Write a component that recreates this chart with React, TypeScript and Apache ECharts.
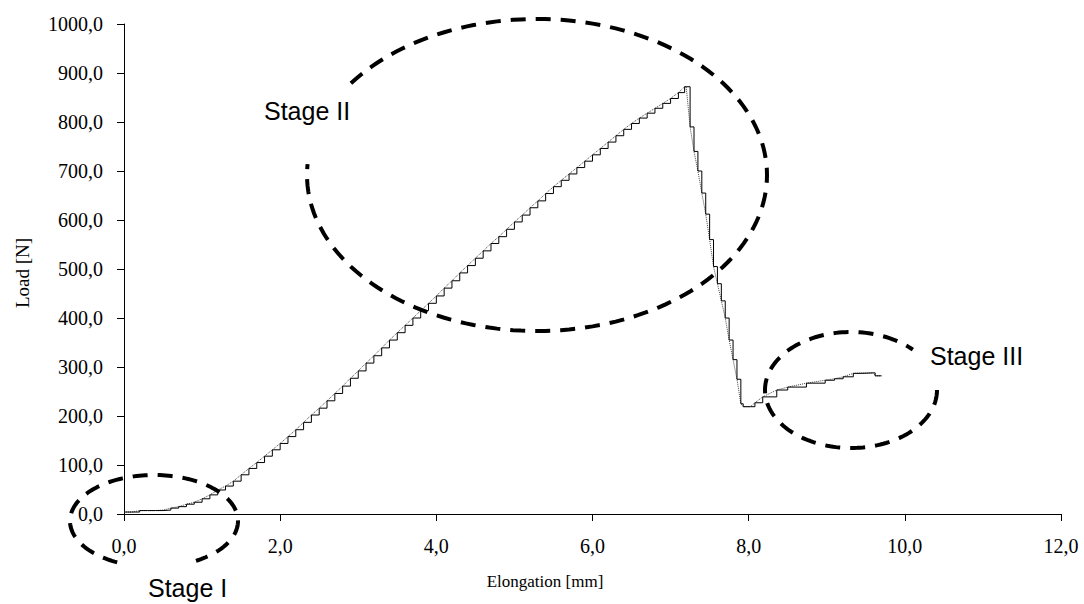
import React, { useEffect, useRef } from "react";
import * as echarts from "echarts";

// Elongation [mm]
const elongation = [
  0.0, 0.1, 0.2, 0.3, 0.4, 0.5, 0.6, 0.7, 0.8, 0.9,
  1.0, 1.1, 1.2, 1.3, 1.4, 1.5, 1.6, 1.7, 1.8, 1.9,
  2.0, 2.1, 2.2, 2.3, 2.4, 2.5, 2.6, 2.7, 2.8, 2.9,
  3.0, 3.1, 3.2, 3.3, 3.4, 3.5, 3.6, 3.7, 3.8, 3.9,
  4.0, 4.1, 4.2, 4.3, 4.4, 4.5, 4.6, 4.7, 4.8, 4.9,
  5.0, 5.1, 5.2, 5.3, 5.4, 5.5, 5.6, 5.7, 5.8, 5.9,
  6.0, 6.1, 6.2, 6.3, 6.4, 6.5, 6.6, 6.7, 6.8, 6.9,
  7.0, 7.1, 7.18, 7.2, 7.25, 7.3, 7.35, 7.4, 7.45, 7.5,
  7.55, 7.6, 7.65, 7.7, 7.75, 7.8, 7.85, 7.9, 7.93, 8.02,
  8.08, 8.18, 8.36, 8.5, 8.74, 8.98, 9.1, 9.21, 9.34, 9.45,
  9.6, 9.62, 9.7,
];

// Load [N]
const load = [
  4, 4, 7, 7, 7, 8, 12, 15, 20, 24,
  31, 39, 49, 57, 67, 80, 93, 105, 118, 131,
  144, 158, 172, 187, 202, 216, 231, 246, 261, 277,
  292, 308, 323, 339, 355, 370, 385, 400, 415, 430,
  445, 461, 476, 492, 507, 522, 537, 552, 566, 581,
  596, 610, 625, 639, 654, 668, 681, 694, 707, 720,
  733, 746, 759, 772, 785, 797, 808, 818, 828, 838,
  848, 860, 872, 872, 790, 740, 700, 655, 612, 560,
  505, 470, 435, 400, 355, 315, 275, 225, 219, 219,
  227, 239, 253, 259, 267, 273, 276, 280, 287, 288,
  288, 282, 282,
];

const xTicks = [0, 2, 4, 6, 8, 10, 12];
const yTicks = [0, 100, 200, 300, 400, 500, 600, 700, 800, 900, 1000];

const stageLabels = ["Stage I", "Stage II", "Stage III"];

function fmt(v: number) {
  return v.toFixed(1).replace(".", ",");
}

function arcPoints(cx: number, cy: number, rx: number, ry: number, a0: number, a1: number) {
  const pts: number[][] = [];
  for (let a = a0; a <= a1; a += 2) {
    const r = (a * Math.PI) / 180;
    pts.push([cx + rx * Math.cos(r), cy + ry * Math.sin(r)]);
  }
  return pts;
}

export default function App() {
  const ref = useRef<HTMLDivElement>(null);
  useEffect(() => {
    if (!ref.current) return;
    const chart = echarts.init(ref.current, undefined, { renderer: "svg" });
    const data = elongation.map((x, i) => [x, load[i]]);
    const serif = "'Liberation Serif', 'Times New Roman', serif";
    const sans = "'Liberation Sans', Arial, sans-serif";
    const dashStyle = {
      stroke: "#000",
      lineWidth: 4,
      lineDash: [15, 10],
      fill: null as any,
    };
    chart.setOption({
      animation: false,
      backgroundColor: "#fff",
      grid: { left: 124, right: 23, top: 24, bottom: 90 },
      xAxis: {
        type: "value",
        min: xTicks[0],
        max: xTicks[xTicks.length - 1],
        interval: 2,
        axisLine: { lineStyle: { color: "#000", width: 1 } },
        axisTick: { show: true, length: 7, lineStyle: { color: "#000" } },
        splitLine: { show: false },
        axisLabel: {
          formatter: (v: number) => fmt(v),
          fontFamily: serif,
          fontSize: 20,
          color: "#000",
          margin: 22,
        },
      },
      yAxis: {
        type: "value",
        min: yTicks[0],
        max: yTicks[yTicks.length - 1],
        interval: 100,
        axisLine: { show: true, lineStyle: { color: "#000", width: 1 } },
        axisTick: { show: true, length: 7, lineStyle: { color: "#000" } },
        splitLine: { show: false },
        axisLabel: {
          formatter: (v: number) => fmt(v),
          fontFamily: serif,
          fontSize: 20,
          color: "#000",
          margin: 21,
        },
      },
      series: [
        {
          type: "line",
          data,
          showSymbol: false,
          lineStyle: { color: "#444", width: 1, type: "dotted" },
          z: 2,
        },
        {
          type: "line",
          data,
          step: "end",
          showSymbol: false,
          lineStyle: { color: "#000", width: 1 },
          z: 3,
        },
      ],
      graphic: [
        {
          type: "polyline",
          silent: true,
          z: 10,
          shape: { points: arcPoints(154, 521, 84, 46, 116, 420) },
          style: dashStyle,
        },
        {
          type: "polyline",
          silent: true,
          z: 10,
          shape: { points: arcPoints(537, 175, 230, 156, 216, 545) },
          style: dashStyle,
        },
        {
          type: "polyline",
          silent: true,
          z: 10,
          shape: { points: arcPoints(851, 390, 86, 58, 0, 316) },
          style: dashStyle,
        },
        {
          type: "text",
          x: 148,
          y: 588,
          style: { text: stageLabels[0], font: `25px ${sans}`, fill: "#000", verticalAlign: "middle" },
        },
        {
          type: "text",
          x: 264,
          y: 111,
          style: { text: stageLabels[1], font: `25px ${sans}`, fill: "#000", verticalAlign: "middle" },
        },
        {
          type: "text",
          x: 930,
          y: 356,
          style: { text: stageLabels[2], font: `25px ${sans}`, fill: "#000", verticalAlign: "middle" },
        },
        {
          type: "text",
          x: 545,
          y: 581,
          style: {
            text: "Elongation [mm]",
            font: `17px ${serif}`,
            fill: "#000",
            align: "center",
            verticalAlign: "middle",
          },
        },
        {
          type: "text",
          x: 22,
          y: 273,
          rotation: Math.PI / 2,
          style: {
            text: "Load [N]",
            font: `19px ${serif}`,
            fill: "#000",
            align: "center",
            verticalAlign: "middle",
          },
        },
      ],
    });
    return () => chart.dispose();
  }, []);
  return (
    <div
      ref={ref}
      style={{ position: "fixed", left: 0, top: 0, width: 1084, height: 604, background: "#fff" }}
    />
  );
}
